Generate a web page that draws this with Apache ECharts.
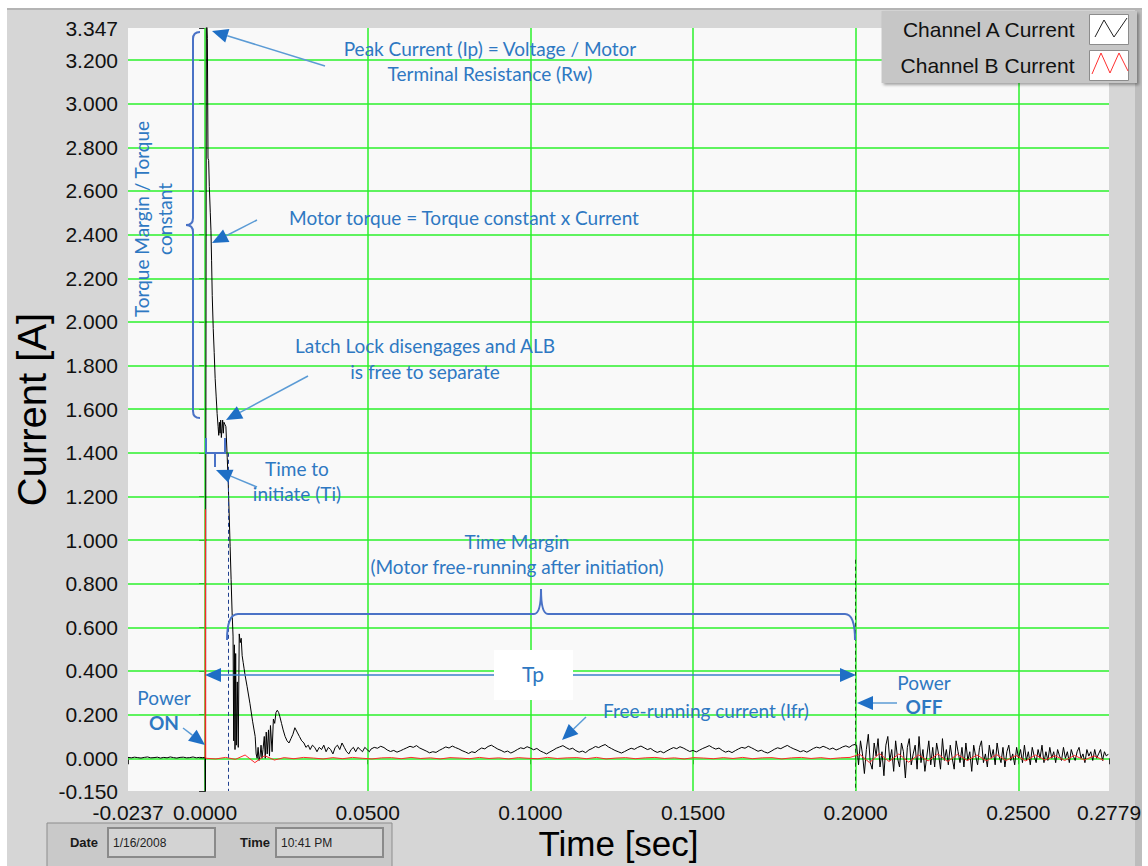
<!DOCTYPE html>
<html>
<head>
<meta charset="utf-8">
<title>Channel current vs time</title>
<script src="https://cdn.jsdelivr.net/npm/echarts@6/dist/echarts.min.js"></script>
<style>
  html, body { margin: 0; padding: 0; background: #fff; }
  #chart { width: 1148px; height: 866px; }
</style>
</head>
<body>
<div id="chart"></div>
<script>
// tick labels
var xTicks = [-0.0237, 0, 0.05, 0.1, 0.15, 0.2, 0.25, 0.2779];
var yTicks = [-0.15, 0, 0.2, 0.4, 0.6, 0.8, 1.0, 1.2, 1.4, 1.6, 1.8, 2.0, 2.2, 2.4, 2.6, 2.8, 3.0, 3.2, 3.347];
// green grid lines
var xGrid = [0, 0.05, 0.1, 0.15, 0.2, 0.25];
var yGrid = [0, 0.2, 0.4, 0.6, 0.8, 1.0, 1.2, 1.4, 1.6, 1.8, 2.0, 2.2, 2.4, 2.6, 2.8, 3.0, 3.2];

// Channel A, before power on (1 ms samples from -0.0237 s)
var preA = [0.004, 0.002, 0.005, 0.003, 0.001, 0.004, 0.006, 0.002, 0.003, 0.005, 0.001, 0.004,
  0.002, 0.006, 0.003, 0.001, 0.004, 0.005, 0.002, 0.003, 0.006, 0.002, 0.004, 0.003];

// Channel A, inrush / initiation transient
var transientT = [0.0000, 0.0001, 0.0004, 0.0007, 0.0009, 0.0011, 0.0013, 0.0016, 0.0018, 0.0020,
  0.0022, 0.0025, 0.0028, 0.0031, 0.0034, 0.0037, 0.0040, 0.0042, 0.0044, 0.0046,
  0.0048, 0.0050, 0.0052, 0.0054, 0.0056, 0.0058, 0.0061, 0.0064, 0.0068, 0.0071,
  0.0074, 0.0077, 0.0080, 0.0083, 0.0086, 0.0088, 0.0090, 0.0092, 0.0094, 0.0096,
  0.0099, 0.0102, 0.0105, 0.0108, 0.0111, 0.0114, 0.0117, 0.0120, 0.0123, 0.0129,
  0.0138, 0.0146, 0.0154, 0.0157, 0.0160, 0.0163, 0.0166, 0.0169, 0.0172, 0.0175,
  0.0178, 0.0182, 0.0185, 0.0188, 0.0191, 0.0195, 0.0198, 0.0201, 0.0206, 0.0210,
  0.0214, 0.0218, 0.0222, 0.0226, 0.0230, 0.0235, 0.0240, 0.0246, 0.0252, 0.0258,
  0.0264, 0.0270, 0.0276, 0.0283, 0.0290, 0.0297, 0.0304, 0.0310, 0.0317, 0.0323,
  0.0330, 0.0337, 0.0344, 0.0351, 0.0358, 0.0365, 0.0372, 0.0379, 0.0386, 0.0393,
  0.0400, 0.0407, 0.0414, 0.0421, 0.0428, 0.0435, 0.0442, 0.0449, 0.0456, 0.0463,
  0.0470, 0.0477, 0.0484, 0.0491, 0.0498, 0.0505];
var transientA = [0.004, -0.25, 3.45, 3.30, 2.75, 2.74, 2.62, 2.50, 2.42, 2.28,
  2.12, 1.97, 1.86, 1.74, 1.66, 1.58, 1.52, 1.48, 1.54, 1.49,
  1.55, 1.47, 1.51, 1.55, 1.49, 1.54, 1.53, 1.52, 1.38, 1.27,
  1.12, 0.97, 0.82, 0.67, 0.56, 0.08, 0.52, 0.04, 0.48, 0.06,
  0.35, 0.05, 0.57, 0.53, 0.55, 0.47, 0.44, 0.41, 0.38, 0.33,
  0.25, 0.17, 0.10, 0.02, 0.00, 0.05, -0.01, 0.01, 0.06, 0.00,
  0.04, 0.10, 0.00, 0.12, 0.02, 0.13, 0.01, 0.15, 0.03, 0.18,
  0.16, 0.21, 0.22, 0.21, 0.19, 0.16, 0.13, 0.10, 0.08, 0.07,
  0.09, 0.11, 0.14, 0.12, 0.10, 0.08, 0.07, 0.05, 0.06, 0.04,
  0.06, 0.05, 0.03, 0.05, 0.04, 0.06, 0.03, 0.05, 0.04, 0.02,
  0.05, 0.06, 0.04, 0.07, 0.05, 0.03, 0.02, 0.04, 0.05, 0.03,
  0.05, 0.04, 0.03, 0.05, 0.04, 0.03];

// Channel A, free-running (1 ms samples from 0.051 s)
var freeRunA = [0.042, 0.050, 0.046, 0.055, 0.049, 0.038, 0.031, 0.036, 0.028, 0.034,
  0.041, 0.048, 0.055, 0.050, 0.058, 0.047, 0.040, 0.033, 0.025, 0.030,
  0.027, 0.036, 0.044, 0.052, 0.047, 0.056, 0.049, 0.043, 0.035, 0.029,
  0.022, 0.030, 0.026, 0.038, 0.047, 0.043, 0.054, 0.060, 0.051, 0.042,
  0.036, 0.028, 0.033, 0.024, 0.031, 0.040, 0.048, 0.044, 0.053, 0.047,
  0.039, 0.045, 0.034, 0.027, 0.020, 0.029, 0.037, 0.046, 0.052, 0.058,
  0.049, 0.041, 0.046, 0.035, 0.028, 0.033, 0.026, 0.038, 0.045, 0.054,
  0.049, 0.057, 0.063, 0.052, 0.044, 0.036, 0.030, 0.024, 0.031, 0.039,
  0.046, 0.041, 0.050, 0.056, 0.048, 0.040, 0.045, 0.034, 0.027, 0.032,
  0.025, 0.034, 0.042, 0.049, 0.044, 0.053, 0.047, 0.039, 0.031, 0.036,
  0.029, 0.037, 0.045, 0.051, 0.058, 0.049, 0.042, 0.047, 0.036, 0.028,
  0.033, 0.026, 0.035, 0.043, 0.050, 0.046, 0.055, 0.048, 0.040, 0.032,
  0.037, 0.029, 0.024, 0.032, 0.041, 0.048, 0.044, 0.052, 0.059, 0.050,
  0.043, 0.037, 0.030, 0.035, 0.028, 0.036, 0.045, 0.051, 0.047, 0.055,
  0.049, 0.041, 0.047, 0.038, 0.044, 0.052, 0.057, 0.050, 0.060, 0.064];

// Channel A, after power off (0.6 ms samples from 0.2003 s)
var postOffA = [0.06, -0.03, 0.08, 0.02, -0.07, 0.04, 0.11, -0.02, -0.05, 0.07,
  0.01, 0.09, -0.04, 0.03, -0.08, 0.06, 0.10, -0.01, 0.04, -0.06,
  0.08, 0.00, -0.04, 0.07, 0.03, -0.09, 0.05, 0.09, -0.03, 0.02,
  0.06, -0.05, 0.10, -0.02, 0.04, -0.06, 0.01, 0.08, -0.03, 0.05,
  -0.04, 0.07, 0.02, -0.05, 0.09, -0.01, 0.04, -0.03, 0.06, 0.00,
  -0.05, 0.08, 0.03, -0.02, 0.05, -0.04, 0.07, -0.01, 0.03, -0.06,
  0.06, 0.01, -0.03, 0.05, 0.08, -0.02, 0.02, -0.04, 0.06, 0.00,
  0.04, -0.03, 0.07, 0.01, -0.02, 0.05, -0.04, 0.03, 0.06, -0.01,
  0.02, -0.03, 0.05, 0.00, 0.04, -0.02, 0.06, -0.01, 0.03, -0.03,
  0.05, 0.01, -0.02, 0.04, 0.00, 0.06, -0.02, 0.03, -0.01, 0.05,
  0.00, 0.03, -0.02, 0.04, 0.01, -0.01, 0.05, 0.00, 0.03, -0.02,
  0.04, 0.01, -0.01, 0.03, 0.05, 0.00, 0.02, -0.02, 0.04, 0.01,
  0.03, -0.01, 0.04, 0.00, 0.02, 0.04, -0.01, 0.03, 0.01, 0.02];

// Channel B: spike at power on, then 3 ms samples from 0.0003 s
var spikeT = [0.0000, 0.0001, 0.0002];
var spikeB = [0.000, 1.14, 0.000];
var chanB = [0.002, -0.003, 0.004, -0.005, 0.015, -0.020, 0.012, -0.008, 0.003, -0.002,
  0.004, 0.001, -0.003, 0.003, -0.002, 0.004, 0.000, -0.003, 0.002, 0.003,
  -0.002, 0.004, -0.001, 0.002, -0.003, 0.003, 0.001, -0.002, 0.004, -0.001,
  0.002, -0.003, 0.003, 0.000, -0.002, 0.004, -0.001, 0.002, 0.003, -0.002,
  0.004, -0.003, 0.001, 0.003, -0.002, 0.002, 0.004, -0.001, 0.002, -0.003,
  0.003, 0.001, -0.002, 0.003, -0.001, 0.004, -0.002, 0.002, 0.003, -0.003,
  0.002, 0.004, -0.001, 0.003, -0.002, 0.002, 0.004,
  0.018, -0.020, 0.022, -0.015, 0.020, -0.018, 0.016, -0.012, 0.020, -0.015,
  0.018, -0.010, 0.015, -0.012, 0.017, -0.010, 0.013, -0.012, 0.015, -0.008,
  0.012, -0.010, 0.013, -0.008, 0.011, -0.009];

function sampled(start, step, values) {
  return values.map(function (v, i) { return [+(start + i * step).toFixed(5), v]; });
}
function paired(ts, vs) {
  return ts.map(function (t, i) { return [t, vs[i]]; });
}

var dataA = sampled(-0.0237, 0.001, preA)
  .concat(paired(transientT, transientA))
  .concat(sampled(0.051, 0.001, freeRunA))
  .concat(sampled(0.2003, 0.0006, postOffA));
var dataB = paired(spikeT, spikeB).concat(sampled(0.0003, 0.003, chanB));

var axisFont = "'Liberation Sans', Arial, sans-serif";
var noteFont = "Lato, 'Open Sans', sans-serif";
var blue = "#2e78c2";
var braceColor = "#4a72c6";

function note(text, x, y, bold, size) {
  return {
    type: "text", x: x, y: y, z: 100, silent: true,
    style: {
      text: text, fill: blue, fontSize: size || 19, fontFamily: noteFont,
      fontWeight: bold ? "bold" : "normal", textAlign: "center", textVerticalAlign: "middle"
    }
  };
}
function arrow(x1, y1, x2, y2) {
  var dx = x2 - x1, dy = y2 - y1;
  var len = Math.sqrt(dx * dx + dy * dy);
  var ux = dx / len, uy = dy / len;
  var hl = 16, hw = 7;
  var bx = x2 - ux * hl, by = y2 - uy * hl;
  return [
    { type: "line", z: 100, silent: true, shape: { x1: x1, y1: y1, x2: bx, y2: by },
      style: { stroke: "#5b9bd5", lineWidth: 1.5 } },
    { type: "polygon", z: 100, silent: true,
      shape: { points: [[x2, y2], [bx - uy * hw, by + ux * hw], [bx + uy * hw, by - ux * hw]] },
      style: { fill: "#1f6fc5" } }
  ];
}
// brace pieces: straight segment and rounded corner
function seg(x1, y1, x2, y2) {
  return { type: "line", z: 100, silent: true, shape: { x1: x1, y1: y1, x2: x2, y2: y2 },
    style: { stroke: braceColor, lineWidth: 2 } };
}
function bend(x1, y1, cx, cy, x2, y2) {
  return { type: "bezierCurve", z: 100, silent: true,
    shape: { x1: x1, y1: y1, cpx1: cx, cpy1: cy, x2: x2, y2: y2 },
    style: { stroke: braceColor, lineWidth: 2, fill: null } };
}

var graphics = [
  // instrument panel
  { type: "rect", z: -10, silent: true, shape: { x: 7, y: 8, width: 1135, height: 858 }, style: { fill: "#d6d6d6" } },
  { type: "line", z: -9, silent: true, shape: { x1: 7, y1: 9, x2: 1142, y2: 9 }, style: { stroke: "#b4b4b4", lineWidth: 2 } },
  { type: "rect", z: -9, silent: true, shape: { x: 1135, y: 10, width: 7, height: 856 }, style: { fill: "#bdbdbd" } },
  // legend icon zigzags
  { type: "polyline", z: 100, silent: true, shape: { points: [[1095, 37], [1104, 20], [1114, 37], [1127, 18]] },
    style: { stroke: "#222", lineWidth: 1, fill: null } },
  { type: "polyline", z: 100, silent: true, shape: { points: [[1092, 74], [1101, 53], [1110, 73], [1119, 53], [1128, 71]] },
    style: { stroke: "#ff3030", lineWidth: 1, fill: null } },
  // date / time box
  { type: "rect", z: 1, silent: true, shape: { x: 47, y: 823, width: 345, height: 50 },
    style: { fill: "#c9c9c9", stroke: "#8d8d8d", lineWidth: 1 } },
  { type: "rect", z: 1, silent: true, shape: { x: 108, y: 828, width: 107, height: 29 },
    style: { fill: "#d3d3d3", stroke: "#8a8a8a", lineWidth: 2 } },
  { type: "rect", z: 1, silent: true, shape: { x: 276, y: 828, width: 107, height: 29 },
    style: { fill: "#d3d3d3", stroke: "#8a8a8a", lineWidth: 2 } },
  { type: "text", z: 2, silent: true, x: 84, y: 842,
    style: { text: "Date", fontSize: 13, fontWeight: "bold", fontFamily: axisFont, fill: "#1a1a1a", textAlign: "center", textVerticalAlign: "middle" } },
  { type: "text", z: 2, silent: true, x: 255, y: 842,
    style: { text: "Time", fontSize: 13, fontWeight: "bold", fontFamily: axisFont, fill: "#1a1a1a", textAlign: "center", textVerticalAlign: "middle" } },
  { type: "text", z: 2, silent: true, x: 113, y: 843,
    style: { text: "1/16/2008", fontSize: 12, fontFamily: axisFont, fill: "#222", textAlign: "left", textVerticalAlign: "middle" } },
  { type: "text", z: 2, silent: true, x: 281, y: 843,
    style: { text: "10:41 PM", fontSize: 12, fontFamily: axisFont, fill: "#222", textAlign: "left", textVerticalAlign: "middle" } },

  // annotations
  note("Peak Current (Ip) = Voltage / Motor", 490, 48),
  note("Terminal Resistance (Rw)", 490, 73),
  note("Motor torque = Torque constant x Current", 464, 217),
  note("Latch Lock disengages and ALB", 425, 345),
  note("is free to separate", 425, 371),
  note("Time to", 297, 468),
  note("initiate (Ti)", 297, 493),
  note("Time Margin", 517, 541),
  note("(Motor free-running after initiation)", 517, 566),
  note("Free-running current (Ifr)", 706, 710),
  note("Power", 164, 697),
  note("ON", 164, 722, true),
  note("Power", 924, 682),
  note("OFF", 924, 706, true),
  { type: "text", x: 141, y: 219, rotation: Math.PI / 2, z: 100, silent: true,
    style: { text: "Torque Margin / Torque", fill: blue, fontSize: 19, fontFamily: noteFont, textAlign: "center", textVerticalAlign: "middle" } },
  { type: "text", x: 164, y: 219, rotation: Math.PI / 2, z: 100, silent: true,
    style: { text: "constant", fill: blue, fontSize: 19, fontFamily: noteFont, textAlign: "center", textVerticalAlign: "middle" } },
  // torque margin bracket
  bend(200, 32, 193, 32, 193, 39), seg(193, 39, 193, 218),
  bend(193, 218, 193, 225, 186, 225), bend(186, 225, 193, 225, 193, 232),
  seg(193, 232, 193, 411), bend(193, 411, 193, 418, 200, 418),
  // Ti bracket
  { type: "polyline", z: 100, silent: true, shape: { points: [[206, 438], [206, 453], [225, 453], [225, 438]] },
    style: { stroke: braceColor, lineWidth: 2, fill: null } },
  seg(215, 453, 215, 467),
  // time margin brace
  bend(227, 640, 227, 614, 238, 614), seg(238, 614, 534, 614),
  bend(534, 614, 541, 614, 541, 589), bend(541, 589, 541, 614, 548, 614),
  seg(548, 614, 845, 614), bend(845, 614, 855, 614, 855, 640),
  // Tp span
  { type: "line", z: 100, silent: true, shape: { x1: 219, y1: 675, x2: 841, y2: 675 }, style: { stroke: "#3b7fc8", lineWidth: 1.5 } },
  { type: "polygon", z: 100, silent: true, shape: { points: [[205, 675], [221, 668], [221, 682]] }, style: { fill: "#1f6fc5" } },
  { type: "polygon", z: 100, silent: true, shape: { points: [[856, 675], [840, 668], [840, 682]] }, style: { fill: "#1f6fc5" } },
  { type: "rect", z: 101, silent: true, shape: { x: 494, y: 650, width: 79, height: 50 }, style: { fill: "#ffffff" } },
  { type: "text", x: 533, y: 673, z: 102, silent: true,
    style: { text: "Tp", fill: blue, fontSize: 21, fontFamily: noteFont, textAlign: "center", textVerticalAlign: "middle" } }
].concat(
  arrow(325, 66, 212, 31),
  arrow(257, 220, 212, 243),
  arrow(308, 376, 226, 420),
  arrow(257, 487, 216, 470),
  arrow(183, 728, 205, 745),
  arrow(897, 703, 857, 703),
  arrow(586, 717, 562, 740)
);

var chart = echarts.init(document.getElementById("chart"), null, { renderer: "svg" });
var option = {
  animation: false,
  backgroundColor: "#ffffff",
  grid: {
    left: 128, right: 39, top: 28, bottom: 75,
    show: true, backgroundColor: "#f9f9f9", borderWidth: 0,
    containLabel: false, outerBoundsMode: "none"
  },
  legend: {
    orient: "vertical",
    right: 11, top: 11, z: 20,
    padding: [3, 8, 2, 19],
    backgroundColor: "#c6c6c6",
    shadowColor: "rgba(0,0,0,0.35)", shadowBlur: 3, shadowOffsetX: 2, shadowOffsetY: 2,
    align: "right",
    icon: "rect",
    itemWidth: 39, itemHeight: 30, itemGap: 5,
    itemStyle: { color: "#ffffff", borderColor: "#8c8c8c", borderWidth: 1 },
    textStyle: { fontSize: 21, color: "#111", fontFamily: axisFont, padding: [0, 10, 0, 0] },
    selectedMode: false,
    data: ["Channel A Current", "Channel B Current"]
  },
  xAxis: {
    type: "value",
    min: -0.0237, max: 0.2779,
    name: "Time [sec]", nameLocation: "middle", nameGap: 35, nameMoveOverlap: false,
    nameTextStyle: { fontSize: 35, color: "#000", fontFamily: axisFont },
    axisLine: { show: false },
    splitLine: { show: false },
    axisTick: { show: true, customValues: xTicks, length: 6, lineStyle: { color: "#333" } },
    axisLabel: {
      customValues: xTicks, margin: 11, fontSize: 21, color: "#111", fontFamily: axisFont,
      showMinLabel: true, showMaxLabel: true, alignMinLabel: "center", alignMaxLabel: "center",
      formatter: function (v) { return v.toFixed(4); }
    }
  },
  yAxis: {
    type: "value",
    min: -0.15, max: 3.347,
    name: "Current [A]", nameLocation: "middle", nameGap: 76, nameMoveOverlap: false,
    nameTextStyle: { fontSize: 40, color: "#000", fontFamily: axisFont },
    axisLine: { show: false },
    splitLine: { show: false },
    axisTick: { show: true, customValues: yTicks, length: 6, lineStyle: { color: "#333" } },
    axisLabel: {
      customValues: yTicks, margin: 10, fontSize: 21, color: "#111", fontFamily: axisFont,
      showMinLabel: true, showMaxLabel: true,
      formatter: function (v) { return v.toFixed(3); }
    }
  },
  graphic: graphics,
  series: [
    {
      // green scope grid
      type: "line", data: [], silent: true,
      markLine: {
        silent: true, symbol: ["none", "none"], animation: false,
        label: { show: false },
        lineStyle: { color: "#2bf02b", width: 1.5, type: "solid" },
        emphasis: { disabled: true },
        data: xGrid.map(function (v) { return { xAxis: v }; })
          .concat(yGrid.map(function (v) { return { yAxis: v }; }))
      }
    },
    {
      name: "Channel A Current",
      type: "line",
      data: dataA,
      symbol: "none",
      z: 10,
      lineStyle: { color: "#000000", width: 1 },
      itemStyle: { color: "#000000" }
    },
    {
      name: "Channel B Current",
      type: "line",
      data: dataB,
      symbol: "none",
      z: 11,
      lineStyle: { color: "#ff2a2a", width: 1 },
      itemStyle: { color: "#ff2a2a" },
      markLine: {
        silent: true, symbol: ["none", "none"], animation: false, z: 12,
        label: { show: false },
        emphasis: { disabled: true },
        data: [
          [{ coord: [0.0071, 1.40], lineStyle: { color: "#1f3f8f", width: 1, type: [4, 3] } }, { coord: [0.0071, -0.15] }],
          [{ coord: [0.2, 0.91], lineStyle: { color: "#1b5e1b", width: 1, type: [4, 3] } }, { coord: [0.2, -0.15] }]
        ]
      }
    }
  ]
};
chart.setOption(option);
</script>
</body>
</html>
